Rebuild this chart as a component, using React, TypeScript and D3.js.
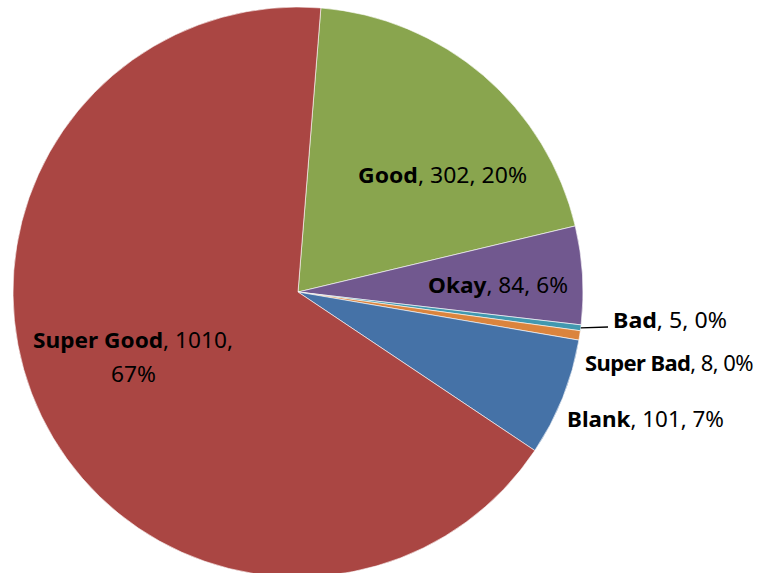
import React from "react";
import * as d3 from "d3";

const categories = ["Good", "Okay", "Bad", "Super Bad", "Blank", "Super Good"];
const values = [302, 84, 5, 8, 101, 1010];
const percentLabels = ["20%", "6%", "0%", "0%", "7%", "67%"];
const colors = ["#89A54E", "#71588F", "#4198AF", "#DB843D", "#4572A7", "#AA4643"];
// label layout: start x, baseline y, target width (0 = natural width, with letter spacing ls)
const labelLayout: { x: number; y: number; w: number; ls?: number; x2?: number; y2?: number; w2?: number }[] = [
  { x: 358, y: 183, w: 169 },
  { x: 428, y: 293, w: 140 },
  { x: 613, y: 328, w: 114 },
  { x: 585, y: 371, w: 0, ls: -0.6 },
  { x: 567, y: 427, w: 157 },
  { x: 33, y: 348, w: 200, x2: 111, y2: 382, w2: 45 },
];

const W = 775;
const H = 573;
const cx = 298;
const cy = 292;
const R = 285;
const startDeg = 4.6;

export default function App() {
  const pie = d3
    .pie<number>()
    .sort(null)
    .value((d) => d)
    .startAngle((startDeg * Math.PI) / 180)
    .endAngle((startDeg * Math.PI) / 180 + 2 * Math.PI);
  const arcs = pie(values);
  const arc = d3.arc<d3.PieArcDatum<number>>().innerRadius(0).outerRadius(R);
  const font = "'Noto Sans', sans-serif";
  const fs = 22;

  const badArc = arcs[2];
  const badMid = (badArc.startAngle + badArc.endAngle) / 2;
  const bx = cx + Math.sin(badMid) * R;
  const by = cy - Math.cos(badMid) * R;

  const fit = (w: number) => (w > 0 ? { textLength: w, lengthAdjust: "spacingAndGlyphs" } : {});

  return (
    <svg width={W} height={H} style={{ position: "absolute", left: 0, top: 0, background: "#fff" }}>
      <g transform={`translate(${cx},${cy})`}>
        {arcs.map((a, i) => (
          <path key={i} d={arc(a) || ""} fill={colors[i]} stroke="#fff" strokeWidth={0.6} />
        ))}
      </g>
      <line x1={bx} y1={by} x2={608} y2={327} stroke="#000" strokeWidth={1.3} />
      {arcs.map((a, i) => {
        const L = labelLayout[i];
        const pct = percentLabels[i];
        if (L.x2 !== undefined) {
          return (
            <g key={i}>
              <text x={L.x} y={L.y} fontFamily={font} fontSize={fs} fill="#000" {...fit(L.w)}>
                <tspan fontWeight="bold">{categories[i]}</tspan>
                <tspan>{`, ${values[i]},`}</tspan>
              </text>
              <text x={L.x2} y={L.y2} fontFamily={font} fontSize={fs} fill="#000" {...fit(L.w2 || 0)}>
                {pct}
              </text>
            </g>
          );
        }
        return (
          <text key={i} x={L.x} y={L.y} fontFamily={font} fontSize={fs} fill="#000" letterSpacing={L.ls || 0} {...fit(L.w)}>
            <tspan fontWeight="bold">{categories[i]}</tspan>
            <tspan>{`, ${values[i]}, ${pct}`}</tspan>
          </text>
        );
      })}
    </svg>
  );
}
